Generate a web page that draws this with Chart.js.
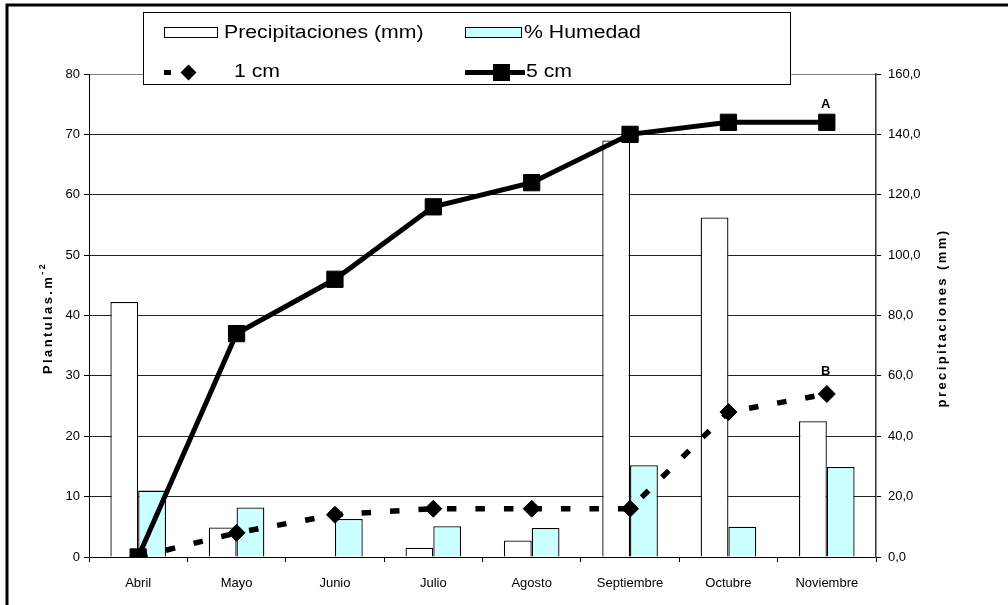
<!DOCTYPE html>
<html>
<head>
<meta charset="utf-8">
<script src="https://cdn.jsdelivr.net/npm/chart.js@4/dist/chart.umd.min.js"></script>
<style>
  html, body { margin: 0; padding: 0; background: #fff; }
  #wrap { width: 1008px; height: 605px; position: relative; }
</style>
</head>
<body>
<div id="wrap"><canvas id="c" width="1008" height="605"></canvas></div>
<script>
// Months of the trial
const months = ['Abril', 'Mayo', 'Junio', 'Julio', 'Agosto', 'Septiembre', 'Octubre', 'Noviembre'];
// Monthly rainfall (mm, right axis)
const precipitaciones = [84.5, 9.8, 0, 3.1, 5.5, 138, 112.5, 45];
// Soil moisture (%, left axis)
const humedad = [11.0, 8.2, 6.3, 5.1, 4.8, 15.2, 5.0, 14.9];
// Seedlings per m² at each sowing depth (left axis)
const plantulas1cm = [0, 4, 7, 8, 8, 8, 24, 27];
const plantulas5cm = [0, 37, 46, 58, 62, 70, 72, 72];
// Axis ranges
const leftAxis = { min: 0, max: 80, step: 10 };
const rightAxis = { min: 0, max: 160, step: 20 };
// Significance letters at the last point of each depth series
const letras = { '1 cm': 'B', '5 cm': 'A' };

const FONT = "'Liberation Sans', Arial, sans-serif";

function withSpacing(ctx, px) {
  if ('letterSpacing' in ctx) ctx.letterSpacing = px + 'px';
}

const decor = {
  id: 'decor',
  afterDraw(chart) {
    const ctx = chart.ctx;
    const ds = chart.data.datasets;

    // outer frame (top and left edges)
    ctx.save();
    ctx.strokeStyle = '#000';
    ctx.lineWidth = 3;
    ctx.strokeRect(7, 5, 1100, 700);
    ctx.restore();

    // significance letters above the final points
    ctx.save();
    ctx.fillStyle = '#000';
    ctx.font = 'bold 13px ' + FONT;
    ctx.textAlign = 'center';
    ctx.textBaseline = 'alphabetic';
    ds.forEach((d, i) => {
      const l = letras[d.label];
      if (!l) return;
      const pts = chart.getDatasetMeta(i).data;
      const p = pts[pts.length - 1];
      const off = d.pointStyle === 'rect' ? 14 : 19;
      ctx.fillText(l, p.x - 1, p.y - off);
    });
    ctx.restore();

    // axis titles
    ctx.save();
    ctx.fillStyle = '#000';
    ctx.textBaseline = 'middle';
    ctx.textAlign = 'left';
    withSpacing(ctx, 2.4);
    ctx.translate(48, 318);
    ctx.rotate(-Math.PI / 2);
    ctx.font = 'bold 13px ' + FONT;
    const main = 'Plantulas.m';
    const w1 = ctx.measureText(main).width;
    ctx.font = 'bold 9px ' + FONT;
    const sup = '-2';
    const w2 = ctx.measureText(sup).width;
    const x0 = -(w1 + w2) / 2;
    ctx.font = 'bold 13px ' + FONT;
    ctx.fillText(main, x0, 0);
    ctx.font = 'bold 9px ' + FONT;
    ctx.fillText(sup, x0 + w1, -5);
    ctx.restore();

    ctx.save();
    ctx.fillStyle = '#000';
    ctx.textBaseline = 'middle';
    ctx.textAlign = 'center';
    withSpacing(ctx, 2.4);
    ctx.translate(942, 318);
    ctx.rotate(-Math.PI / 2);
    ctx.font = 'bold 13px ' + FONT;
    ctx.fillText('precipitaciones (mm)', 0, 0);
    ctx.restore();

    // legend box
    ctx.save();
    ctx.fillStyle = '#fff';
    ctx.fillRect(143.5, 12.5, 647, 72);
    ctx.strokeStyle = '#000';
    ctx.lineWidth = 1;
    ctx.strokeRect(143.5, 12.5, 647, 72);

    const legendText = (txt, x, y) => {
      ctx.save();
      ctx.translate(x, y);
      ctx.scale(1.18, 1);
      ctx.font = '18px ' + FONT;
      ctx.fillStyle = '#000';
      ctx.textAlign = 'left';
      ctx.textBaseline = 'middle';
      ctx.fillText(txt, 0, 0);
      ctx.restore();
    };

    const r1 = 33, r2 = 72.5;
    // bar series swatches
    ctx.fillStyle = ds[0].backgroundColor;
    ctx.fillRect(164.5, 27.5, 53, 10);
    ctx.strokeStyle = '#000';
    ctx.lineWidth = 1;
    ctx.strokeRect(164.5, 27.5, 53, 10);
    legendText(ds[0].label, 224, r1);

    ctx.fillStyle = ds[1].backgroundColor;
    ctx.fillRect(465.5, 27.5, 56, 10);
    ctx.strokeRect(465.5, 27.5, 56, 10);
    legendText(ds[1].label, 524, r1);

    // dashed series swatch
    ctx.fillStyle = '#000';
    ctx.fillRect(164, r2 - 2.5, 7, 5);
    ctx.beginPath();
    ctx.moveTo(188.5, r2 - 8);
    ctx.lineTo(196.5, r2);
    ctx.lineTo(188.5, r2 + 8);
    ctx.lineTo(180.5, r2);
    ctx.closePath();
    ctx.fill();
    legendText(ds[2].label, 234, r2);

    // solid series swatch
    ctx.fillRect(465, r2 - 2.5, 60, 5);
    ctx.fillRect(493, r2 - 8.5, 17, 17);
    legendText(ds[3].label, 526, r2);
    ctx.restore();
  }
};

new Chart(document.getElementById('c'), {
  data: {
    labels: months,
    datasets: [
      {
        type: 'bar',
        label: 'Precipitaciones (mm)',
        data: precipitaciones,
        yAxisID: 'y1',
        backgroundColor: '#ffffff',
        borderColor: '#000',
        borderWidth: 1.3,
        categoryPercentage: 0.565,
        barPercentage: 1.0,
        order: 2
      },
      {
        type: 'bar',
        label: '% Humedad',
        data: humedad,
        yAxisID: 'y',
        backgroundColor: '#CCFFFF',
        borderColor: '#000',
        borderWidth: 1.3,
        categoryPercentage: 0.565,
        barPercentage: 1.0,
        order: 2
      },
      {
        type: 'line',
        label: '1 cm',
        data: plantulas1cm,
        yAxisID: 'y',
        borderColor: '#000',
        borderWidth: 5.5,
        borderDash: [9.5, 19],
        pointStyle: 'rectRot',
        pointRadius: 8.5,
        pointBackgroundColor: '#000',
        pointBorderColor: '#000',
        pointBorderWidth: 1,
        tension: 0,
        order: 1
      },
      {
        type: 'line',
        label: '5 cm',
        data: plantulas5cm,
        yAxisID: 'y',
        borderColor: '#000',
        borderWidth: 5,
        pointStyle: 'rect',
        pointRadius: 11.5,
        pointBackgroundColor: '#000',
        pointBorderColor: '#000',
        pointBorderWidth: 1,
        tension: 0,
        order: 0
      }
    ]
  },
  options: {
    responsive: false,
    animation: false,
    devicePixelRatio: 1,
    layout: { padding: { top: 74, left: 0, right: 0, bottom: 0 } },
    plugins: {
      legend: { display: false },
      tooltip: { enabled: false }
    },
    scales: {
      x: {
        type: 'category',
        offset: true,
        grid: { offset: true, drawOnChartArea: false, drawTicks: true, tickLength: 5, color: '#000' },
        border: { color: '#000', width: 1 },
        ticks: { color: '#000', font: { family: FONT, size: 13 }, padding: 14, autoSkip: false, maxRotation: 0 },
        afterFit(s) { s.height = 48; }
      },
      y: {
        position: 'left',
        min: leftAxis.min,
        max: leftAxis.max,
        ticks: { stepSize: leftAxis.step, color: '#000', font: { family: FONT, size: 13 }, padding: 4 },
        grid: {
          color: (c) => (c.tick && c.tick.value === leftAxis.max ? '#808080' : '#222'),
          lineWidth: 1,
          drawTicks: true,
          tickLength: 5,
          tickColor: '#000'
        },
        border: { color: '#000', width: 1 },
        afterFit(s) { s.width = 89; }
      },
      y1: {
        position: 'right',
        min: rightAxis.min,
        max: rightAxis.max,
        ticks: {
          stepSize: rightAxis.step,
          color: '#000',
          font: { family: FONT, size: 13 },
          padding: 7,
          callback: (v) => v.toFixed(1).replace('.', ',')
        },
        grid: { drawOnChartArea: false, drawTicks: true, tickLength: 5, color: '#000' },
        border: { color: '#333', width: 1.5 },
        afterFit(s) { s.width = 132; }
      }
    }
  },
  plugins: [decor]
});
</script>
</body>
</html>
